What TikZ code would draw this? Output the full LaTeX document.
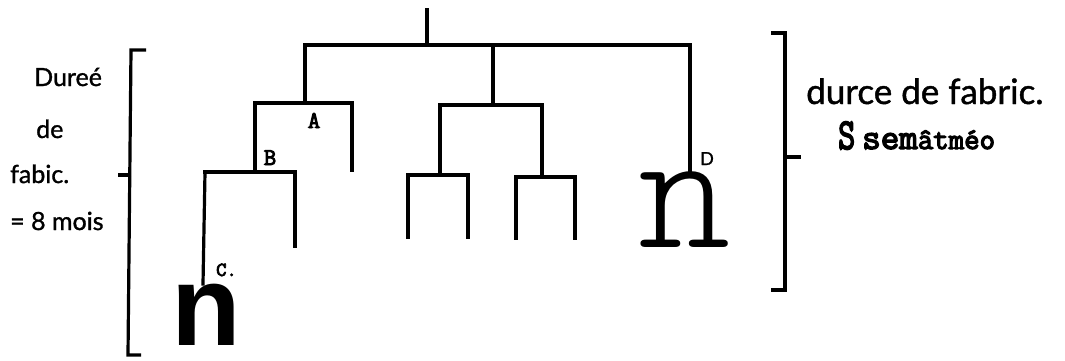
\documentclass[tikz,border=0pt]{standalone}
\usepackage{fontspec}
\newfontfamily\hand{Lato}[FakeBold=1.2]
\newfontfamily\bigsans{Liberation Sans}
\newfontfamily\typebold{Latin Modern Mono}[FakeBold=4]
\newfontfamily\typelight{Latin Modern Mono Light}
\begin{document}
\begin{tikzpicture}[x=1pt,y=-1pt,
  branch/.style={line width=3.2pt,line cap=rect,line join=miter},
  brace/.style={line width=3.2pt,line join=miter},
  note/.style={font=\hand\fontsize{25}{27}\selectfont,inner sep=0pt},
  tag/.style={font=\typebold\fontsize{24}{26}\selectfont,inner sep=0pt}]
\useasboundingbox (0,0) rectangle (1065,361);

% junctions of the tree
\coordinate (top) at (427,10);
\coordinate (root) at (427,45);
\coordinate (L) at (305,45);
\coordinate (M) at (493,45);
\coordinate (R) at (690,45);
\coordinate (Lb) at (305,103);
\coordinate (A1) at (255,103);
\coordinate (A2) at (352,103);
\coordinate (Aleaf) at (352,170);
\coordinate (B0) at (255,172);
\coordinate (B1) at (205,172);
\coordinate (B2) at (295,172);
\coordinate (Bleaf) at (295,246);
\coordinate (Mb) at (493,105);
\coordinate (M1) at (440,105);
\coordinate (M2) at (542,105);
\coordinate (S1) at (440,175);
\coordinate (S1a) at (408,175);
\coordinate (S1b) at (468,175);
\coordinate (S1aL) at (408,237);
\coordinate (S1bL) at (468,237);
\coordinate (S2) at (542,177);
\coordinate (S2a) at (516,177);
\coordinate (S2b) at (575,177);
\coordinate (S2aL) at (516,238);
\coordinate (S2bL) at (575,238);

% leaf glyphs
\node[inner sep=0pt,anchor=base] (nC) at (206,345) {\bigsans\bfseries\fontsize{114}{114}\selectfont n};
\node[inner sep=0pt,anchor=base] (nD) at (685,247) {\typelight\fontsize{176}{176}\selectfont n};
\coordinate (Cleaf) at (203,284);
\coordinate (Dleaf) at (690,172);

% tree
\draw[branch] (top) -- (root);
\draw[branch] (L) -- (R);
\draw[branch] (L) -- (Lb);
\draw[branch] (M) -- (Mb);
\draw[branch] (R) -- (Dleaf);
\draw[branch] (A1) -- (A2) -- (Aleaf);
\draw[branch] (A1) -- (B0);
\draw[branch] (B1) -- (B2) -- (Bleaf);
\draw[branch] (B1) -- (Cleaf);
\draw[branch] (M1) -- (M2);
\draw[branch] (M1) -- (S1);
\draw[branch] (M2) -- (S2);
\draw[branch] (S1aL) -- (S1a) -- (S1b) -- (S1bL);
\draw[branch] (S2aL) -- (S2a) -- (S2b) -- (S2bL);

% labels on the tree
\node[tag,anchor=base] (labA) at (314,128) {A};
\node[tag,anchor=base] (labB) at (270,165) {B};
\node[tag,anchor=base west,font=\typebold\fontsize{20}{22}\selectfont] (labC) at (216,276) {C.};
\node[note,font=\hand\fontsize{18}{19}\selectfont,anchor=base] (labD) at (707,165) {D};

% left bracket
\coordinate (lb1) at (146,50);
\coordinate (lb2) at (131,50);
\coordinate (lb3) at (128,355);
\coordinate (lb4) at (141,355);
\coordinate (lbm) at (131,175);
\coordinate (lbt) at (118,175);
\draw[brace] (lb1) -- (lb2) -- (lb3) -- (lb4);
\draw[brace] (lbm) -- (lbt);

% right bracket
\coordinate (rb1) at (771,33);
\coordinate (rb2) at (785,33);
\coordinate (rb3) at (785,290);
\coordinate (rb4) at (771,290);
\coordinate (rbm) at (785,157);
\coordinate (rbt) at (801,157);
\draw[brace] (rb1) -- (rb2) -- (rb3) -- (rb4);
\draw[brace] (rbm) -- (rbt);

% left caption
\node[note,anchor=base west] (t1) at (34,86) {Dureé};
\node[note,anchor=base west] (t2) at (36,138) {de};
\node[note,anchor=base west] (t3) at (10,183) {fabic.};
\node[note,anchor=base west] (t4) at (10,230) {= 8 mois};

% right caption
\node[note,anchor=base west,font=\hand\fontsize{35}{37}\selectfont] (t5) at (806,104) {durce de fabric.};
\node[anchor=base west,inner sep=0pt] (t6) at (838,149) {\typebold\scalebox{0.75}[1]{\fontsize{44}{44}\selectfont S}\hspace{7pt}{\fontsize{36}{36}\selectfont sem}{\fontsize{30}{30}\selectfont âtméo}};
\end{tikzpicture}
\end{document}
